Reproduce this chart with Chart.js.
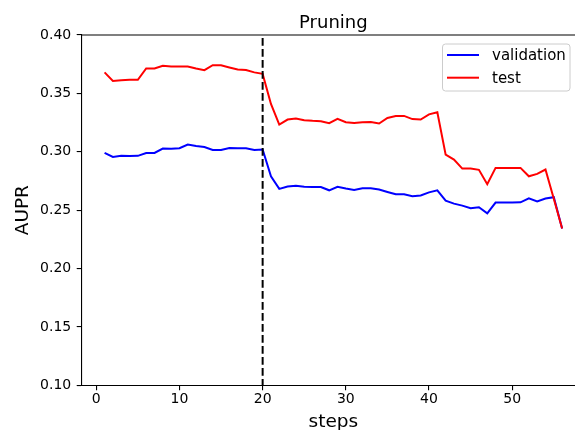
<!DOCTYPE html>
<html>
<head>
<meta charset="utf-8">
<script src="https://cdn.jsdelivr.net/npm/chart.js@4.4.1/dist/chart.umd.min.js"></script>
<style>
  html, body { margin: 0; padding: 0; background: #fff; overflow: hidden; }
  #wrap { width: 585px; height: 430px; }
</style>
</head>
<body>
<div id="wrap"><canvas id="chart" width="585" height="430"></canvas></div>
<script>
// data
const steps = [1, 2, 3, 4, 5, 6, 7, 8, 9, 10, 11, 12, 13, 14, 15, 16, 17, 18, 19, 20,
  21, 22, 23, 24, 25, 26, 27, 28, 29, 30, 31, 32, 33, 34, 35, 36, 37, 38, 39, 40,
  41, 42, 43, 44, 45, 46, 47, 48, 49, 50, 51, 52, 53, 54, 55, 56];

const validation = [0.299, 0.2956, 0.2965, 0.2963, 0.2965, 0.299, 0.299, 0.3027, 0.3025, 0.303,
  0.3062, 0.305, 0.304, 0.3016, 0.3016, 0.3033, 0.303, 0.303, 0.3016, 0.3019,
  0.279, 0.2682, 0.2702, 0.2708, 0.270, 0.2698, 0.2698, 0.267, 0.270, 0.2685,
  0.2673, 0.2687, 0.2687, 0.2676, 0.2656, 0.2636, 0.2636, 0.262, 0.2625, 0.2652,
  0.267, 0.2582, 0.2556, 0.2539, 0.2516, 0.2525, 0.2473, 0.2565, 0.2565, 0.2565,
  0.2567, 0.2602, 0.2574, 0.260, 0.2611, 0.2342];

const test = [0.368, 0.3607, 0.3613, 0.3616, 0.3616, 0.3713, 0.3713, 0.3736, 0.373, 0.373,
  0.373, 0.3713, 0.3699, 0.3741, 0.3741, 0.3722, 0.3704, 0.370, 0.368, 0.3667,
  0.341, 0.3233, 0.3276, 0.3284, 0.327, 0.3265, 0.3262, 0.3245, 0.3282, 0.3253,
  0.3247, 0.3253, 0.3255, 0.3242, 0.329, 0.3307, 0.3307, 0.328, 0.3276, 0.332,
  0.3339, 0.2976, 0.2933, 0.2856, 0.2856, 0.2845, 0.2722, 0.2862, 0.2862, 0.2862,
  0.2862, 0.279, 0.2811, 0.2848, 0.2597, 0.2342];

const pruneStep = 20;
const xTicks = [0, 10, 20, 30, 40, 50];
const yTicks = [0.10, 0.15, 0.20, 0.25, 0.30, 0.35, 0.40];

const FONT = "'DejaVu Sans', sans-serif";

function pairs(xs, ys) {
  return xs.map((x, i) => ({ x: x, y: ys[i] }));
}

// title, axis labels, top spine and legend, matplotlib style
const decor = {
  id: "decor",
  afterDraw(chart) {
    const ctx = chart.ctx;
    const a = chart.chartArea;
    const cx = (a.left + a.right) / 2;
    ctx.save();

    ctx.strokeStyle = "#000";
    ctx.lineWidth = 1.1;
    ctx.beginPath();
    ctx.moveTo(a.left, a.top);
    ctx.lineTo(a.right, a.top);
    ctx.stroke();

    ctx.fillStyle = "#000";
    ctx.textAlign = "center";
    ctx.textBaseline = "alphabetic";
    ctx.font = "18px " + FONT;
    ctx.fillText("Pruning", cx, 28);

    ctx.font = "18.5px " + FONT;
    ctx.fillText("steps", cx, 427);

    ctx.save();
    ctx.translate(28, (a.top + a.bottom) / 2);
    ctx.rotate(-Math.PI / 2);
    ctx.fillText("AUPR", 0, 0);
    ctx.restore();

    // legend box
    const bx = 442.5, by = 44, bw = 127.5, bh = 47, r = 3;
    ctx.beginPath();
    ctx.moveTo(bx + r, by);
    ctx.arcTo(bx + bw, by, bx + bw, by + bh, r);
    ctx.arcTo(bx + bw, by + bh, bx, by + bh, r);
    ctx.arcTo(bx, by + bh, bx, by, r);
    ctx.arcTo(bx, by, bx + bw, by, r);
    ctx.closePath();
    ctx.fillStyle = "rgba(255,255,255,0.8)";
    ctx.fill();
    ctx.strokeStyle = "#cccccc";
    ctx.lineWidth = 1;
    ctx.stroke();

    ctx.font = "15px " + FONT;
    ctx.textAlign = "left";
    ctx.textBaseline = "middle";
    [0, 1].forEach((di, k) => {
      const ds = chart.data.datasets[di];
      const y = 55 + k * 22.7;
      ctx.strokeStyle = ds.borderColor;
      ctx.lineWidth = 2;
      ctx.beginPath();
      ctx.moveTo(447, y);
      ctx.lineTo(479, y);
      ctx.stroke();
      ctx.fillStyle = "#000";
      ctx.fillText(ds.label, 492, y + 1);
    });

    ctx.restore();
  }
};

new Chart(document.getElementById("chart"), {
  type: "line",
  data: {
    datasets: [
      {
        label: "validation",
        data: pairs(steps, validation),
        borderColor: "#0000ff",
        borderWidth: 2,
        pointRadius: 0,
        order: 2
      },
      {
        label: "test",
        data: pairs(steps, test),
        borderColor: "#ff0000",
        borderWidth: 2,
        pointRadius: 0,
        order: 1
      },
      {
        label: "prune",
        data: [{ x: pruneStep, y: yTicks[yTicks.length - 1] }, { x: pruneStep, y: yTicks[0] }],
        borderColor: "#000",
        borderWidth: 2,
        borderDash: [7.7, 3.3],
        borderDashOffset: -3,
        pointRadius: 0,
        order: 0
      }
    ]
  },
  options: {
    responsive: false,
    devicePixelRatio: 1,
    animation: false,
    events: [],
    layout: { padding: { top: 35, right: 0, left: 0, bottom: 0 } },
    plugins: {
      legend: { display: false },
      tooltip: { enabled: false },
      title: { display: false }
    },
    scales: {
      x: {
        type: "linear",
        min: -1.75,
        max: 58.75,
        afterBuildTicks: s => { s.ticks = xTicks.map(v => ({ value: v })); },
        afterFit: s => { s.height = 44.7; },
        border: { display: true, color: "#000", width: 1.1 },
        grid: { drawOnChartArea: false, drawTicks: true, tickLength: 5, color: "#000", lineWidth: 1.1 },
        ticks: {
          color: "#000",
          font: { family: FONT, size: 14 },
          padding: 1,
          maxRotation: 0,
          callback: v => String(v)
        }
      },
      y: {
        type: "linear",
        min: yTicks[0],
        max: yTicks[yTicks.length - 1],
        afterBuildTicks: s => { s.ticks = yTicks.map(v => ({ value: v })); },
        afterFit: s => { s.width = 81.7; },
        border: { display: true, color: "#000", width: 1.1 },
        grid: { drawOnChartArea: false, drawTicks: true, tickLength: 5, color: "#000", lineWidth: 1.1 },
        ticks: {
          color: "#000",
          font: { family: FONT, size: 14 },
          padding: 5.5,
          callback: v => v.toFixed(2)
        }
      }
    }
  },
  plugins: [decor]
});
</script>
</body>
</html>
